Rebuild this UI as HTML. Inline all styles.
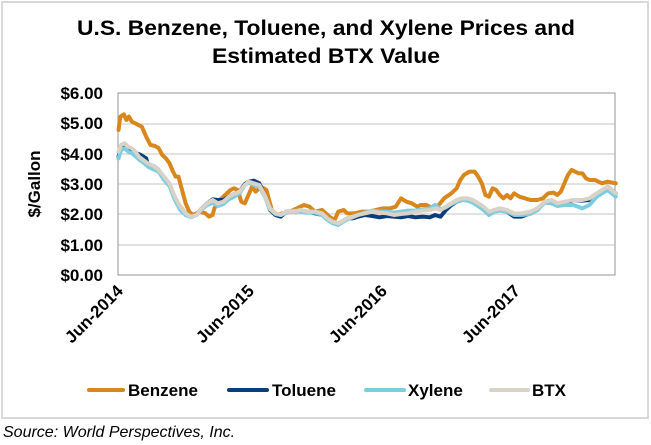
<!DOCTYPE html>
<html><head><meta charset="utf-8"><style>
html,body{margin:0;padding:0;background:#fff;}
svg{display:block;font-family:"Liberation Sans",Arial,sans-serif;}
</style></head><body>
<svg width="651" height="445" viewBox="0 0 651 445" xmlns="http://www.w3.org/2000/svg">
<rect x="2" y="2" width="646" height="416" fill="#fff" stroke="#d9d9d9" stroke-width="2"/>
<text x="326" y="35" text-anchor="middle" font-size="21" font-weight="bold" textLength="498" lengthAdjust="spacingAndGlyphs">U.S. Benzene, Toluene, and Xylene Prices and</text>
<text x="326" y="63" text-anchor="middle" font-size="21" font-weight="bold" textLength="228" lengthAdjust="spacingAndGlyphs">Estimated BTX Value</text>
<g stroke="#d9d9d9" stroke-width="1.5">
<line x1="118" y1="124" x2="615" y2="124"/><line x1="118" y1="154" x2="615" y2="154"/>
<line x1="118" y1="184" x2="615" y2="184"/><line x1="118" y1="214" x2="615" y2="214"/>
<line x1="118" y1="245" x2="615" y2="245"/>
</g>
<rect x="118" y="93" width="497" height="182" fill="none" stroke="#a6a6a6" stroke-width="1.2"/>
<g font-size="17" font-weight="bold" text-anchor="end" fill="#000">
<text x="103" y="99">$6.00</text><text x="103" y="129">$5.00</text><text x="103" y="160">$4.00</text>
<text x="103" y="190">$3.00</text><text x="103" y="220">$2.00</text><text x="103" y="251">$1.00</text>
<text x="103" y="281">$0.00</text>
</g>
<text transform="translate(40,184) rotate(-90)" text-anchor="middle" font-size="17" font-weight="bold">$/Gallon</text>
<g font-size="17" font-weight="bold" text-anchor="end">
<text transform="translate(124,292) rotate(-45)">Jun-2014</text>
<text transform="translate(255,292) rotate(-45)">Jun-2015</text>
<text transform="translate(388,292) rotate(-45)">Jun-2016</text>
<text transform="translate(521,292) rotate(-45)">Jun-2017</text>
</g>
<g transform="translate(60,80) scale(0.359,0.3333)" fill="none" stroke-linejoin="round" stroke-linecap="round">
<polyline vector-effect="non-scaling-stroke" stroke="#d9861c" stroke-width="4" points="163,150 168,110 178,103 185,120 192,110 200,125 210,130 218,135 228,140 240,170 252,195 265,198 275,205 285,225 295,235 305,250 315,275 322,290 330,290 340,330 350,370 360,395 370,405 380,400 390,395 405,400 415,410 425,405 430,385 445,360 460,345 475,330 485,325 495,330 505,365 515,370 525,345 535,320 545,335 560,320 575,330 590,390 605,405 620,400 640,395 660,385 680,375 695,380 710,395 730,390 750,410 765,420 775,395 790,390 800,400 820,400 840,395 860,395 880,390 900,385 920,385 935,380 950,355 965,365 980,370 995,380 1005,375 1020,375 1040,385 1055,375 1070,355 1090,340 1105,325 1115,300 1125,285 1140,275 1155,275 1165,290 1175,310 1185,345 1195,350 1205,325 1215,330 1225,345 1235,355 1245,345 1255,355 1265,340 1280,350 1295,355 1310,360 1330,360 1345,355 1360,340 1375,338 1385,345 1395,335 1405,310 1415,285 1425,270 1435,275 1445,280 1455,280 1465,295 1475,300 1490,300 1500,305 1510,310 1525,305 1548,310"/>
<polyline vector-effect="non-scaling-stroke" stroke="#0b3d7c" stroke-width="4" points="163,230 170,200 180,195 190,205 200,210 210,218 225,225 240,235 245,255 260,258 275,270 290,295 305,315 320,355 335,380 350,400 365,410 380,405 395,385 410,370 425,358 440,360 455,360 470,350 485,342 500,335 515,312 525,305 540,302 555,310 570,345 585,390 600,405 615,410 630,395 650,395 670,392 690,395 710,400 730,405 745,415 760,425 775,432 785,425 800,415 815,415 830,410 850,405 870,408 890,412 910,408 930,410 950,412 970,408 990,412 1010,410 1030,412 1045,405 1060,410 1075,390 1090,375 1105,365 1120,360 1135,360 1150,365 1165,375 1180,385 1195,400 1210,390 1225,390 1245,395 1265,410 1285,410 1310,400 1330,390 1350,365 1370,370 1385,375 1405,370 1430,360 1455,362 1475,360 1495,345 1510,335 1525,320 1548,340"/>
<polyline vector-effect="non-scaling-stroke" stroke="#7ccde0" stroke-width="4" points="163,235 170,210 180,205 190,215 200,220 210,228 222,240 235,250 248,262 260,268 275,275 290,300 305,318 320,360 335,390 350,405 365,412 380,405 395,388 410,375 425,368 440,378 455,372 470,358 485,350 500,340 515,315 525,308 540,315 555,320 570,348 585,388 600,402 615,405 630,398 650,392 670,395 690,398 710,398 730,405 745,420 760,430 775,435 785,428 800,418 815,412 830,405 850,398 870,392 890,395 910,395 930,398 950,395 970,392 990,392 1010,388 1030,385 1045,375 1060,388 1075,382 1090,372 1105,365 1120,360 1135,362 1150,368 1165,378 1180,390 1195,405 1210,395 1225,392 1245,395 1265,405 1285,405 1310,402 1330,390 1350,368 1370,370 1385,378 1405,375 1430,375 1455,385 1475,375 1495,350 1510,340 1525,330 1548,350"/>
<polyline vector-effect="non-scaling-stroke" stroke="#d9d3c7" stroke-width="4" points="163,215 170,195 180,190 190,200 200,205 210,215 220,230 232,240 245,250 260,258 275,270 290,290 305,310 320,350 335,380 350,400 365,410 380,405 395,385 410,370 425,360 440,370 455,365 470,350 485,342 500,335 515,315 525,305 540,310 555,315 570,345 585,385 600,400 615,405 630,395 650,395 670,390 690,395 710,395 730,400 745,415 760,425 775,430 785,425 800,415 815,410 830,405 850,400 870,395 890,398 910,400 930,405 950,402 970,400 990,395 1010,392 1030,390 1045,385 1060,390 1075,380 1090,370 1105,360 1120,355 1135,355 1150,360 1165,370 1180,380 1195,395 1210,390 1225,385 1245,390 1265,400 1285,400 1310,395 1330,385 1350,365 1370,360 1385,370 1405,365 1430,360 1455,360 1475,355 1495,340 1510,330 1525,320 1548,340"/>
</g>
<g stroke-width="4" stroke-linecap="round">
<line x1="89" y1="390" x2="123" y2="390" stroke="#d9861c"/>
<line x1="229" y1="390" x2="267" y2="390" stroke="#0b3d7c"/>
<line x1="366" y1="390" x2="404" y2="390" stroke="#7ccde0"/>
<line x1="491" y1="390" x2="528" y2="390" stroke="#d9d3c7"/>
</g>
<g font-size="17" font-weight="bold">
<text x="128" y="396">Benzene</text>
<text x="272" y="396">Toluene</text>
<text x="408" y="396">Xylene</text>
<text x="532" y="396">BTX</text>
</g>
<text x="3" y="437" font-size="16" font-style="italic">Source: World Perspectives, Inc.</text>
</svg>
</body></html>
